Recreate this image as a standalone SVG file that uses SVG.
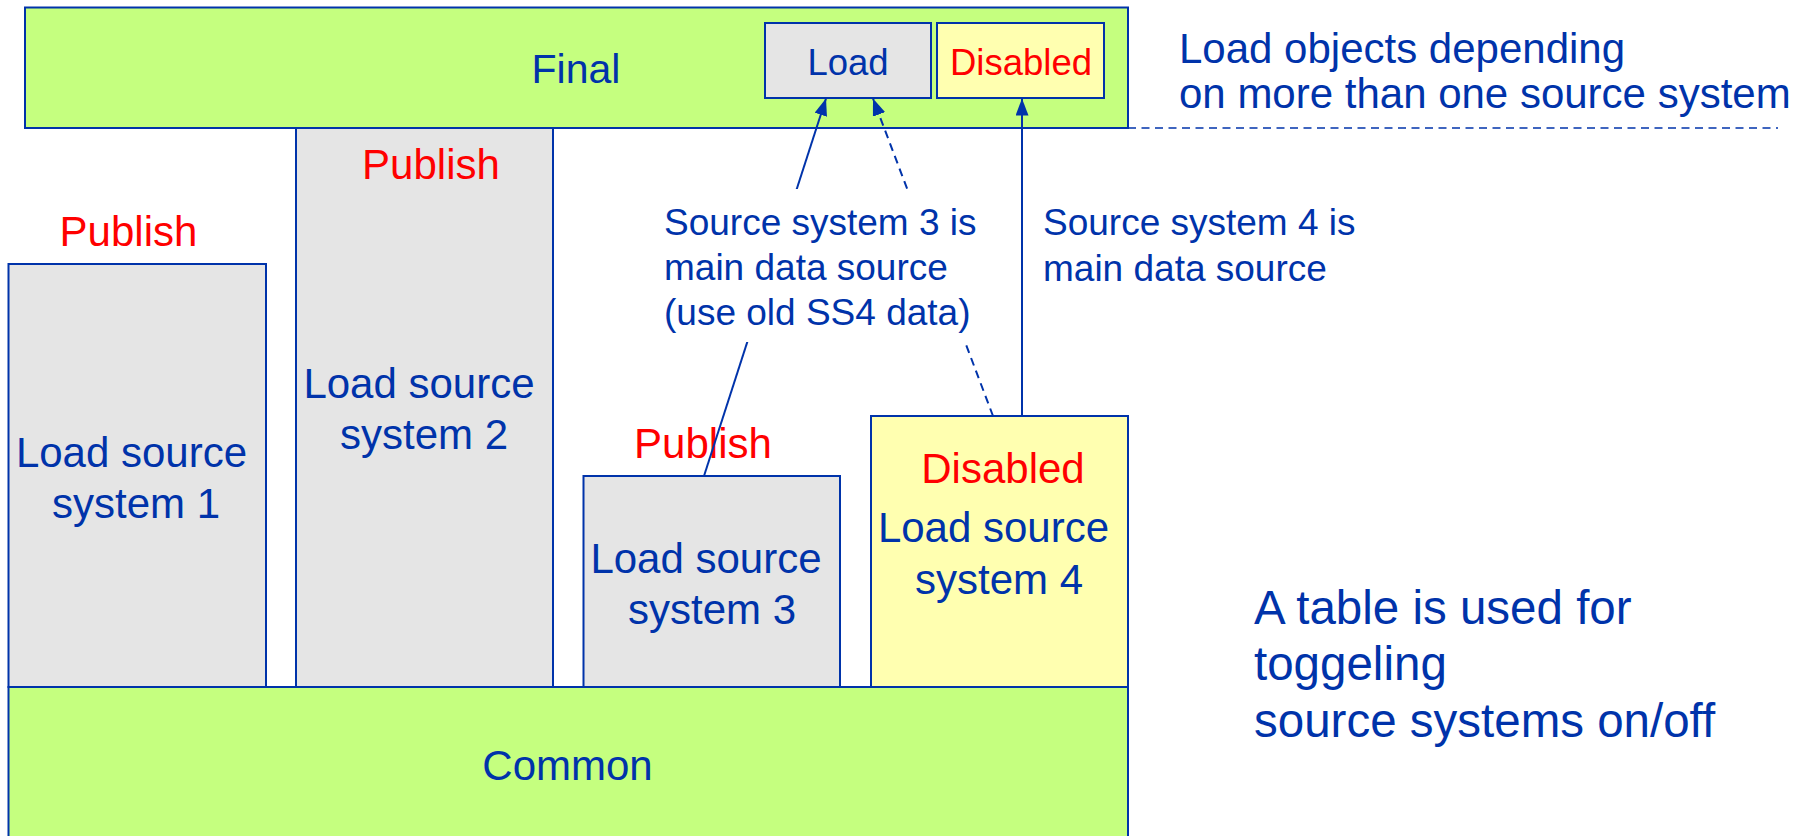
<svg xmlns="http://www.w3.org/2000/svg" width="1806" height="836" viewBox="0 0 1806 836">
<style>
text{font-family:"Liberation Sans",Arial,sans-serif;fill:#0033aa}
.red{fill:#ff0000}
.box{stroke:#0033aa;stroke-width:2}
.green{fill:#c5ff7f}
.gray{fill:#e5e5e5}
.yellow{fill:#ffffb0}
.big{font-size:42px}
.lbl{font-size:37px}
.mid{text-anchor:middle}
.conn{stroke:#0033aa;stroke-width:2;fill:none}
.dash{stroke-dasharray:8 5.5}
</style>
<defs>
<marker id="arr" viewBox="0 0 17 13" refX="17" refY="6.5" markerWidth="17" markerHeight="13" markerUnits="userSpaceOnUse" orient="auto">
<path d="M0,0 L17,6.5 L0,13 Z" fill="#0033aa"/>
</marker>
</defs>
<rect width="1806" height="836" fill="#ffffff"/>

<g id="final">
<rect class="box green" x="25" y="7.5" width="1103" height="120.5"/>
<text class="mid" x="576" y="83" style="font-size:41px">Final</text>
</g>
<g id="final-load">
<rect class="box gray" x="765" y="23" width="166" height="75"/>
<text class="mid" x="848" y="75" style="font-size:36.5px">Load</text>
</g>
<g id="final-disabled">
<rect class="box yellow" x="937" y="23" width="167" height="75"/>
<text class="mid red" x="1021" y="75" style="font-size:36.5px">Disabled</text>
</g>

<g id="note-final">
<text class="big" x="1179" y="63">Load objects depending</text>
<text class="big" x="1179" y="108">on more than one source system</text>
<line x1="1128" y1="128" x2="1778" y2="128" class="conn dash" style="stroke-width:1.4"/>
</g>

<g id="ls1">
<text class="big red mid" x="128.5" y="246">Publish</text>
<rect class="box gray" x="8.5" y="264" width="257.5" height="423"/>
<text class="big mid" x="131.5" y="467">Load source</text>
<text class="big mid" x="136" y="518">system 1</text>
</g>
<g id="ls2">
<rect class="box gray" x="296" y="128" width="257" height="559"/>
<text class="big red mid" x="431" y="179">Publish</text>
<text class="big mid" x="419" y="398">Load source</text>
<text class="big mid" x="424" y="449">system 2</text>
</g>
<g id="ls3">
<text class="big red mid" x="703" y="458">Publish</text>
<rect class="box gray" x="583.5" y="476" width="256.5" height="211"/>
<text class="big mid" x="706" y="573">Load source</text>
<text class="big mid" x="712" y="624">system 3</text>
</g>
<g id="ls4">
<rect class="box yellow" x="871" y="416" width="257" height="271"/>
<text class="big red mid" x="1003" y="483">Disabled</text>
<text class="big mid" x="993.5" y="542">Load source</text>
<text class="big mid" x="999" y="594">system 4</text>
</g>
<g id="common">
<rect class="box green" x="8.5" y="687" width="1119.5" height="160"/>
<text class="big mid" x="567.5" y="780">Common</text>
</g>

<g id="connectors">
<line class="conn" x1="704" y1="476" x2="826" y2="98.5" marker-end="url(#arr)"/>
<line class="conn dash" x1="993" y1="416" x2="873" y2="98.5" marker-end="url(#arr)"/>
<line class="conn" x1="1022" y1="416" x2="1022" y2="98.5" marker-end="url(#arr)"/>
</g>

<g id="label-ss3">
<rect x="655" y="189" width="352" height="153" fill="#ffffff"/>
<text class="lbl" x="664" y="235">Source system 3 is</text>
<text class="lbl" x="664" y="280">main data source</text>
<text class="lbl" x="664" y="325">(use old SS4 data)</text>
</g>
<g id="label-ss4">
<text class="lbl" x="1043" y="235">Source system 4 is</text>
<text class="lbl" x="1043" y="281">main data source</text>
</g>
<g id="note-table">
<text x="1254" y="624" style="font-size:47.5px">A table is used for</text>
<text x="1254" y="680" style="font-size:47.5px">toggeling</text>
<text x="1254" y="737" style="font-size:47.5px">source systems on/off</text>
</g>
</svg>
